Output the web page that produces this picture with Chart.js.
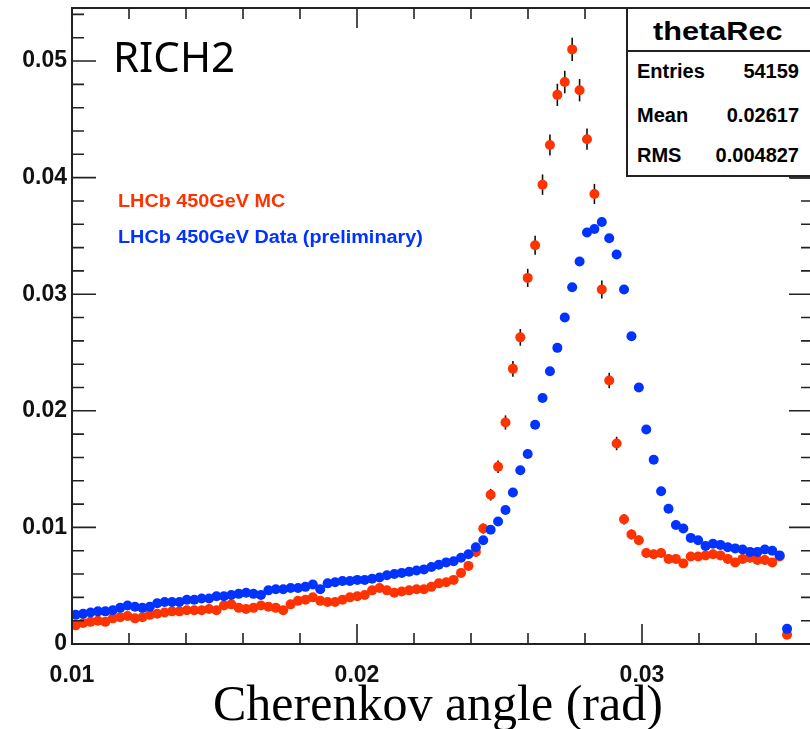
<!DOCTYPE html>
<html>
<head>
<meta charset="utf-8">
<script src="https://cdn.jsdelivr.net/npm/chart.js@4.4.1/dist/chart.umd.min.js"></script>
<style>
body{margin:0;background:#fff;overflow:hidden}
#wrap{position:relative;width:810px;height:729px;overflow:hidden;background:#fff}
#c{position:absolute;left:0;top:0}
.t{position:absolute;white-space:nowrap;line-height:1;font-family:"Liberation Sans",Arial,sans-serif;font-weight:bold;transform-origin:0 0}
#stats{position:absolute;left:626px;top:7px;width:200px;height:166px;border:2px solid #222;background:#fff}
#sep{position:absolute;left:0;top:41px;width:100%;height:2px;background:#222}
#shadow{position:absolute;left:790px;top:176px;width:30px;height:3px;background:#333}
</style>
</head>
<body>
<div id="wrap">
<canvas id="c" width="830" height="729" style="width:830px;height:729px"></canvas>
<div id="shadow"></div>
<div id="stats"><div id="sep"></div></div>
<div class="t" style="left:653px;top:18px;font-size:26px;transform:scaleX(1.18)">thetaRec</div>
<div class="t" style="left:637px;top:61px;font-size:20px">Entries</div>
<div class="t" style="right:11px;top:61px;font-size:20px">54159</div>
<div class="t" style="left:637px;top:105px;font-size:20px">Mean</div>
<div class="t" style="right:11px;top:105px;font-size:20px">0.02617</div>
<div class="t" style="left:637px;top:145px;font-size:20px">RMS</div>
<div class="t" style="right:11px;top:145px;font-size:20px">0.004827</div>
<div class="t" style="left:113px;top:35px;font-size:42px;font-weight:normal;font-family:'Noto Sans',sans-serif">RICH2</div>
<div class="t" style="left:118px;top:192px;font-size:18px;color:#ff3300;transform:scaleX(1.1)">LHCb 450GeV MC</div>
<div class="t" style="left:118px;top:228px;font-size:18px;color:#0033ff;transform:scaleX(1.1)">LHCb 450GeV Data (preliminary)</div>
<div class="t" style="left:213px;top:678px;font-size:50px;font-weight:normal;font-family:'Liberation Serif','Times New Roman',serif">Cherenkov angle (rad)</div>
</div>
<script>
// histogram thetaRec: 100 bins from 0.01 to 0.036, last filled bin is 96
var binLow=0.01;
var binWidth=0.00026;
var xTicks=[0.01,0.02,0.03];
var yTicks=[0,0.01,0.02,0.03,0.04,0.05];

// LHCb 450GeV MC (red)
var mc=[0.0016,0.0018,0.0019,0.0020,0.0019,0.0022,0.0023,0.0024,0.0022,0.0023,
0.0025,0.0026,0.0027,0.0028,0.0028,0.0029,0.0029,0.0029,0.0030,0.0029,
0.0033,0.0034,0.0031,0.0030,0.0031,0.0033,0.0032,0.0031,0.0029,0.0034,
0.0037,0.0038,0.0040,0.0037,0.0036,0.0036,0.0038,0.0040,0.0041,0.0042,
0.0046,0.0048,0.0046,0.0044,0.0045,0.0046,0.0047,0.0047,0.0049,0.0052,
0.0053,0.0055,0.0061,0.0067,0.0079,0.0099,0.0128,0.0152,0.0190,0.0236,
0.0263,0.0314,0.0342,0.0394,0.0428,0.0471,0.0482,0.0510,0.0475,0.0433,
0.0386,0.0304,0.0226,0.0172,0.0107,0.0094,0.0089,0.0078,0.0077,0.0078,
0.0073,0.0073,0.0069,0.0075,0.0075,0.0076,0.0077,0.0076,0.0073,0.0070,
0.0073,0.0074,0.0072,0.0072,0.0070,0.0075,0.0008];

// LHCb 450GeV Data (blue)
var data=[0.0025,0.0026,0.0027,0.0028,0.0028,0.0029,0.0031,0.0033,0.0032,0.0031,
0.0032,0.0035,0.0036,0.0036,0.0036,0.0038,0.0038,0.0039,0.0039,0.0041,
0.0041,0.0042,0.0043,0.0044,0.0043,0.0042,0.0046,0.0047,0.0047,0.0048,
0.0048,0.0049,0.0051,0.0047,0.0052,0.0053,0.0054,0.0054,0.0055,0.0055,
0.0056,0.0057,0.0059,0.0060,0.0061,0.0062,0.0063,0.0064,0.0066,0.0068,
0.0070,0.0071,0.0074,0.0077,0.0083,0.0089,0.0098,0.0105,0.0115,0.0130,
0.0149,0.0163,0.0188,0.0211,0.0234,0.0254,0.0280,0.0306,0.0328,0.0353,
0.0356,0.0362,0.0348,0.0334,0.0304,0.0264,0.0220,0.0184,0.0158,0.0131,
0.0116,0.0102,0.0099,0.0091,0.0089,0.0084,0.0086,0.0085,0.0083,0.0082,
0.0081,0.0079,0.0079,0.0081,0.0080,0.0076,0.0013];

function pts(arr){
    var out=[];
    for(var i=0;i<arr.length;i++){
        out.push({x:binLow+binWidth*(i+0.5),y:arr[i]});
    }
    return out;
}

// error bars on the MC points, drawn behind the markers
var errBars={
    id:'errBars',
    beforeDatasetsDraw(chart){
        var ctx=chart.ctx, x=chart.scales.x, y=chart.scales.y;
        ctx.save();
        ctx.strokeStyle='#111';
        ctx.lineWidth=1.6;
        for(var i=0;i<mc.length;i++){
            var e=0.0044*Math.sqrt(mc[i]);
            var px=x.getPixelForValue(binLow+binWidth*(i+0.5));
            ctx.beginPath();
            ctx.moveTo(px,y.getPixelForValue(mc[i]+e));
            ctx.lineTo(px,y.getPixelForValue(mc[i]-e));
            ctx.stroke();
        }
        ctx.restore();
    }
};

// ROOT style frame with ticks on all four sides
var frame={
    id:'frame',
    afterDraw(chart){
        var ctx=chart.ctx, a=chart.chartArea, x=chart.scales.x, y=chart.scales.y;
        ctx.save();
        ctx.strokeStyle='#222';
        ctx.lineWidth=2;
        ctx.strokeRect(a.left,a.top,a.right-a.left,a.bottom-a.top);
        ctx.lineWidth=1.6;
        ctx.beginPath();
        for(var k=0;k<=13;k++){
            var px=x.getPixelForValue(0.01+k*0.002);
            var len=(k%5==0)?20:11;
            ctx.moveTo(px,a.bottom);ctx.lineTo(px,a.bottom-len);
            ctx.moveTo(px,a.top);ctx.lineTo(px,a.top+len);
        }
        for(var j=0;j<=27;j++){
            var py=y.getPixelForValue(j*0.002);
            var l=(j%5==0)?24:12;
            ctx.moveTo(a.left,py);ctx.lineTo(a.left+l,py);
            ctx.moveTo(a.right,py);ctx.lineTo(a.right-l,py);
        }
        ctx.stroke();
        ctx.restore();
    }
};

var tickFont={family:'"Liberation Sans", Arial, sans-serif',size:23,weight:'bold'};

new Chart(document.getElementById('c').getContext('2d'),{
    type:'scatter',
    data:{
        datasets:[
            {label:'LHCb 450GeV Data (preliminary)',data:pts(data),backgroundColor:'#0033ff',borderWidth:0,pointRadius:5,order:0},
            {label:'LHCb 450GeV MC',data:pts(mc),backgroundColor:'#ff3300',borderWidth:0,pointRadius:5,order:1}
        ]
    },
    options:{
        responsive:false,
        animation:false,
        devicePixelRatio:1,
        layout:{padding:{top:8,right:17,left:0,bottom:0}},
        plugins:{legend:{display:false},tooltip:{enabled:false}},
        scales:{
            x:{
                type:'linear',min:0.01,max:0.036,
                grid:{display:false,drawTicks:false},
                border:{display:false},
                afterFit(s){s.height=85;s.paddingLeft=0;s.paddingRight=0;},
                afterBuildTicks(s){s.ticks=xTicks.map(function(v){return {value:v};});},
                ticks:{padding:18,color:'#111',font:tickFont,maxRotation:0,
                    callback:function(v){return String(Math.round(v*100)/100);}}
            },
            y:{
                type:'linear',min:0,max:0.05455,
                grid:{display:false,drawTicks:false},
                border:{display:false},
                afterFit(s){s.width=72;s.paddingTop=0;s.paddingBottom=0;},
                afterBuildTicks(s){s.ticks=yTicks.map(function(v){return {value:v};});},
                ticks:{padding:5,color:'#111',font:tickFont,
                    callback:function(v){return String(Math.round(v*100)/100);}}
            }
        }
    },
    plugins:[errBars,frame]
});
</script>
</body>
</html>
